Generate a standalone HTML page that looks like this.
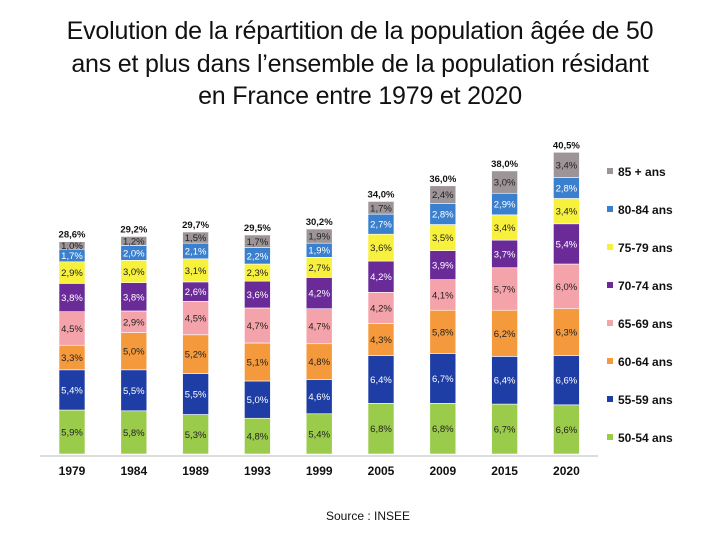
<!DOCTYPE html>
<html><head><meta charset="utf-8"><style>
body{margin:0;background:#fff;width:720px;height:540px;overflow:hidden;font-family:"Liberation Sans",sans-serif}
#title{position:absolute;left:0;top:15px;width:720px;text-align:center;font-size:25px;line-height:32.5px;color:#111;letter-spacing:-0.2px}
</style></head><body>
<div id="title">Evolution de la répartition de la population âgée de 50<br>ans et plus dans l’ensemble de la population résidant<br>en France entre 1979 et 2020</div>
<svg id="chart" width="720" height="540" style="position:absolute;left:0;top:0"></svg>
<script>
const years=["1979","1984","1989","1993","1999","2005","2009","2015","2020"];
const totals=["28,6%","29,2%","29,7%","29,5%","30,2%","34,0%","36,0%","38,0%","40,5%"];
const seriesNames=["50-54 ans","55-59 ans","60-64 ans","65-69 ans","70-74 ans","75-79 ans","80-84 ans","85 + ans"];
const s5054=[5.9,5.8,5.3,4.8,5.4,6.8,6.8,6.7,6.6];
const s5559=[5.4,5.5,5.5,5.0,4.6,6.4,6.7,6.4,6.6];
const s6064=[3.3,5.0,5.2,5.1,4.8,4.3,5.8,6.2,6.3];
const s6569=[4.5,2.9,4.5,4.7,4.7,4.2,4.1,5.7,6.0];
const s7074=[3.8,3.8,2.6,3.6,4.2,4.2,3.9,3.7,5.4];
const s7579=[2.9,3.0,3.1,2.3,2.7,3.6,3.5,3.4,3.4];
const s8084=[1.7,2.0,2.1,2.2,1.9,2.7,2.8,2.9,2.8];
const s85=[1.0,1.2,1.5,1.7,1.9,1.7,2.4,3.0,3.4];
const series=[s5054,s5559,s6064,s6569,s7074,s7579,s8084,s85];
const colors=["#9bcb4b","#1e3ea6","#f49a3c","#f5a3aa","#6a2b98","#f7f03c","#3b80cf","#9c9496"];
const textCol=["#222","#fff","#222","#222","#fff","#222","#fff","#222"];
const svg=document.getElementById('chart');const NS="http://www.w3.org/2000/svg";
const base=454,k=7.45,x0=72,dx=61.8,bw=26;
const xS=i=>x0+i*dx, yS=v=>base-v*k;
function mk(t,a,txt){const e=document.createElementNS(NS,t);for(const n in a)e.setAttribute(n,a[n]);if(txt!=null)e.textContent=txt;svg.appendChild(e);return e;}
const ax=mk('line',{x1:40,x2:598,y1:base+2,y2:base+2,stroke:'#bbb','stroke-width':1});


years.forEach((yr,i)=>{
 let cum=0;const cx=xS(i);
 series.forEach((s,j)=>{
  const v=s[i];
  const r=mk('rect',{x:cx-bw/2,y:yS(cum+v),width:bw,height:v*k,fill:colors[j],stroke:'#fff','stroke-width':0.6});
  
  
  const t=mk('text',{x:cx,y:yS(cum+v/2)+3.5,'text-anchor':'middle','font-size':9.5,fill:textCol[j]},v.toFixed(1).replace('.',',')+'%');
  
  
  cum+=v;
 });
 const tt=mk('text',{x:cx,y:yS(cum)-4,'text-anchor':'middle','font-size':9.5,'font-weight':'bold',fill:'#111'},totals[i]);
 
 
 const yl=mk('text',{x:cx,y:475,'text-anchor':'middle','font-size':12,'font-weight':'bold',fill:'#111'},yr);
 
 
});
for(let j=7;j>=0;j--){
 const y=176+(7-j)*38;
 const sq=mk('rect',{x:607,y:y-8,width:6,height:6,fill:colors[j]});
 
 
 const lt=mk('text',{x:618,y:y,'font-size':12,'font-weight':'bold',fill:'#111'},seriesNames[j]);
 
 
}
const src=mk('text',{x:368,y:520,'text-anchor':'middle','font-size':12,fill:'#111'},'Source : INSEE');


</script>
</body></html>
